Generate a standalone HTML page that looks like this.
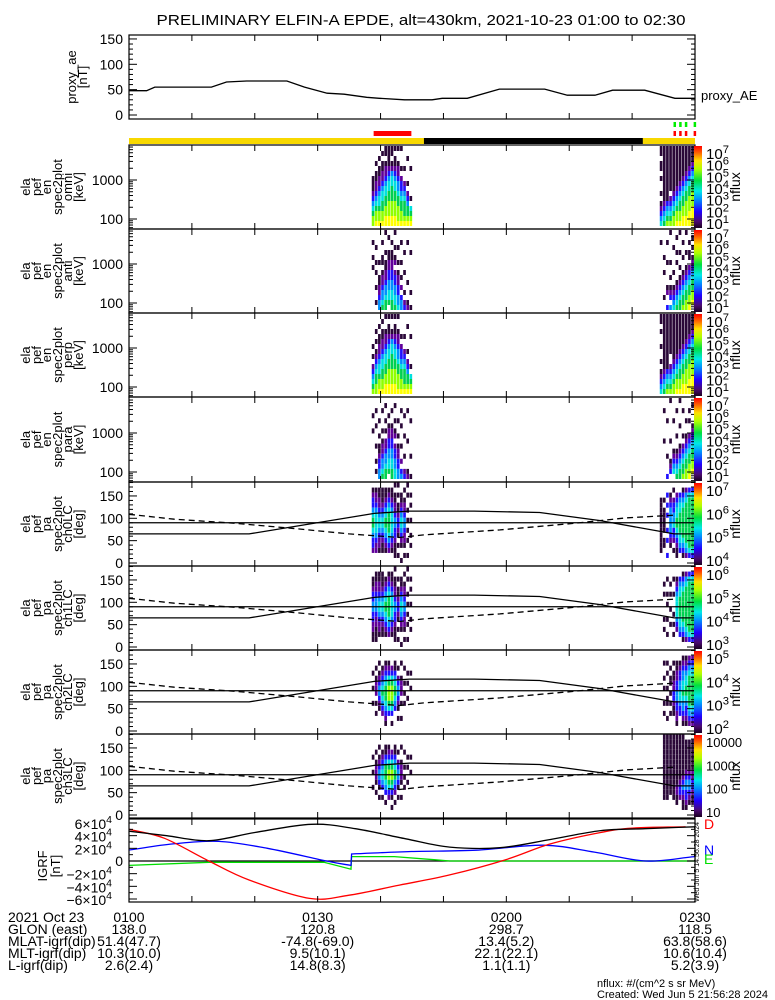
<!DOCTYPE html>
<html><head><meta charset="utf-8"><title>ELFIN-A EPDE</title>
<style>
html,body{margin:0;padding:0;background:#fff;}
svg{display:block;font-family:"Liberation Sans",sans-serif;}
</style></head>
<body>
<svg id="chart" xmlns="http://www.w3.org/2000/svg" width="775" height="1000" viewBox="0 0 775 1000">
<defs>
<linearGradient id="cbar" x1="0" y1="1" x2="0" y2="0">
<stop offset="0" stop-color="#1a0020"/>
<stop offset="0.08" stop-color="#4a0a70"/>
<stop offset="0.2" stop-color="#2000ff"/>
<stop offset="0.35" stop-color="#0090ff"/>
<stop offset="0.45" stop-color="#00e8e8"/>
<stop offset="0.58" stop-color="#00e040"/>
<stop offset="0.72" stop-color="#b0ff00"/>
<stop offset="0.82" stop-color="#ffe000"/>
<stop offset="0.92" stop-color="#ff6000"/>
<stop offset="1" stop-color="#ff0000"/>
</linearGradient>
</defs>
<text x="421" y="25" text-anchor="middle" font-size="15" textLength="529" lengthAdjust="spacingAndGlyphs">PRELIMINARY ELFIN-A EPDE, alt=430km, 2021-10-23 01:00 to 02:30</text>
</svg>
<script>
// ===== data =====
const aeTimes = [0,2.8,4.1,13.1,15.5,18.7,25.1,27.9,31.5,34.2,37.8,39.8,43.8,48.2,49.8,53.8,58.9,59.7,66.1,69.7,74.1,76.9,82.0,86.8,90];
const aeValues = [48,48,55,55,65,67,67,55,43,41,35,33,30,30,33,33,51,51,51,39,39,49,49,33,33];
const tickLabelsTime = ['0100','0130','0200','0230'];
const tickMinutes = [0,30,60,90];
const glonLabels = ['138.0','120.8','298.7','118.5'];
const mlatLabels = ['51.4(47.7)','-74.8(-69.0)','13.4(5.2)','63.8(58.6)'];
const mltLabels = ['10.3(10.0)','9.5(10.1)','22.1(22.1)','10.6(10.4)'];
const lLabels = ['2.6(2.4)','14.8(8.3)','1.1(1.1)','5.2(3.9)'];
// PA lines (minutes, degrees)
const paSolidT = [0,19.1,39,44.6,54.9,65.3,74.8,86.7,90];
const paSolidV = [65,65,111,116,116,113,95,65,65];
const paDashT = [0,7.2,16.7,27.1,35,43,47,59,71,79,86.7];
const paDashV = [109,98,89,76,65,57,63,74,89,101,107];
// IGRF components (minutes, nT)
const igrfBlackT = [0,6,12.7,20,29,36,44,51,59,67,75,82,90];
const igrfBlackV = [47000,40000,32000,45000,58000,51000,35000,22000,21000,34000,48000,51000,54000];
const igrfBlueT = [0,7,14.3,22,31.4,35.3,35.4,44.9,55.2,65.9,74,82.2,90];
const igrfBlueV = [17400,27000,31000,20000,0,-7000,11000,15000,17000,25000,14000,0,7000];
const igrfRedT = [0,5.6,12.7,19.1,28.7,35,43,51,59.9,67,75,80,88.5];
const igrfRedV = [50000,36000,0,-30000,-59000,-54000,-38000,-22000,2000,27000,45000,52000,54000];
const igrfGreenT = [0,12.7,31,35.3,35.4,42.2,48.5,51,90];
const igrfGreenV = [-7000,-2000,-2000,-13000,7000,7000,2000,0,0];
// spectrogram events: start minute, column width (min)
const ev1Start = 38.6, ev2Start = 84.4, colMin = 0.5;
const omniEv1 = ["......1112345677","...1.11223456778","..1.112234556778",".1.1122345566778","11.1223455667788","1111234556677788","11.1245566677788","1.11234556677788","1..1223445667778","1...1.2334566778","....1..234566678","..1....1.2346678","....1.....1.5678"];
const omniEv2 = ["11.11.1..1.12345","1111111111123456","1111111111134567","111111111.234567","1111111112345677","1111111123456778","1111111234566778","1111112345667788","1111123456677788","1111234566777888","1112345667778888","1112345667778888"];
const antiEv1 = ["..1..1.1........","...1..1.1..1..1.","......1..1122344","..1..11.12234456","1...1.1122344566",".1..11223344556.","..1.112233445566","1..1.12.23344556","...1..1.12233445","..1...1..1.2.344","....1...1...1.23","..1.......1...12","....1.......1..1"];
const antiEv2 = ["..1.............",".....1..1....1..","..1...1....12..3","1.....1..1.123.4","...1....1..12345",".1..1.1...123456","1...1..1.1234566","..1..1..12345667","1...1..123456677","..1.11.234566778",".1.1.1234566778.","..1.11234566778."];
const perpEv1 = ["......1.1.234567","...1.1.123456677","..1.112234556778",".1.1122345566778","1..1223455667788","1.11234556677788","1..1245566677788","1.11234556677788","1..1223445667778","....1.2334566778","....1..234566678","..1....1.2346678","....1.....1.5678"];
const perpEv2 = ["11.1..1..1.12345","1111111111123456","1111111111134567","11111111..234567","1111111112345677","1111111123456778","1111111234566778","1111112345667788","1111123456677788","1111234566777888","1112345667778888","1112345667778888"];
const paraEv1 = ["...1..1.........","..1..1...1..1.1.","....1..1.1123344","..1...1.12234456",".1..1.1.22344566","...1.1223344556.","..1..12233445566",".1..1.12.2334455","....1..1.1223344","..1..1...1..2.34","...1...1...1..23","..1.....1.....12","....1......1...1"];
const paraEv2 = ["................","..1.....1.......","....1......1...3","1.......1...123.","....1.....12345.","..1....1..123456","1....1...1234566","..1....1.2345667","....1..123456677","..1.1..234566778",".1...1234566778.","..1..1234566778."];
const pa0Ev1 = [".1233456654332..",".1223455554322..",".1122345543221..",".1112345543211..",".1123456654321..",".1234566665432..",".1123455554321..","1.1122344332111.","1.1.1123321.1.1.","..11234554321..1",".1.1223443221.1.","1.1..1.1.1.1..1.","..1.1..1..1.1..."];
const pa0Ev2 = ["...11111111111..","...1.11111.11...","..3.3.3..3.3..3.","..12344444321...",".1.233445332.1..","..2345566543211.","..345566665543..",".13456666665431.",".24566666666542.",".35666666666653.",".35666666666653.","..4566666666654."];
const pa1Ev1 = ["..1123344332211.",".11223444322111.",".1122345543221..",".1112345543211..","..123456654321..",".1234566665432..",".1123455554321..","1.1122344332111.","..1.1123321.1.1.","..11234554321..1",".1.1223443221.1.","1.1..1.1.1.1..1.","..1.1..1..1.1..."];
const pa1Ev2 = ["................","...1.1....1.1...","..1..1.1..1..1..","...1.1..1..1....","..1..1...1.1.1..","..12345555432...","..345566665543..",".13456666665431.",".24566666666542.",".35666666666653.",".35666666666653.","..4566666666654."];
const pa2Ev1 = ["....1..1..1.....","...1.1222.1.1...","..1.12344321....","...1234565432...","..1234566654321.","..12356777653...","...2356777653.1.","..1134566543....","...1.2344321.1..","..1..1222.1..1..","...1..1.1.1.....","....1.1..1......","....1..1........"];
const pa2Ev2 = ["................","..1..1.1..1.1...","..1.1..1.11..1..","...1.11.1.1.1...","..1.112233211...","..1122334433221.","..12334455433...",".12344556544321.",".12345566543321.",".23456666665432.",".23456666665432.","..3456666665432."];
const pa3Ev1 = ["....1..1..1.....","...1.12221.1....","..1.1234431.1...","...12345543.1...","..1134666543.1..","..12356776532...","...2356776531.1.","..1134566432.1..","...1.234431.1...","..1..12221..1...","...1..1.1.1.....","....1.1..1......","....1..1........"];
const pa3Ev2 = ["................","1111111111111...","1111111111111...","111111111111....","1111111111111...","11111111112211..","1111111112332...","111111112343211.",".11111123443321.",".1111112344321..",".1111112233211..","..11111122211..."];
const cbarExpSpec = [1,2,3,4,5,6,7];
const cbarExpPa = [[4,5,6,7],[3,4,5,6],[2,3,4,5],[1,2,3,4]];
const levelColors = ['none','#2a0838','#60009a','#2010ff','#0090ff','#00e0e0','#00d050','#90ff00','#ffff00','#ff8000','#ff0000'];

// ===== geometry =====
const svg = document.getElementById('chart');
const NS = 'http://www.w3.org/2000/svg';
const X0 = 129, X1 = 695;
function xT(m){ return X0 + (X1-X0)*m/90; }
function mk(tag, attrs, parent){
  const e = document.createElementNS(NS, tag);
  for (const k in attrs) e.setAttribute(k, attrs[k]);
  (parent||svg).appendChild(e);
  return e;
}
function txt(x,y,s,size,anchor,parent){
  const t = mk('text',{x:x,y:y,'font-size':size,'text-anchor':anchor||'start'},parent);
  t.textContent = s;
  return t;
}
function poly(ts, vs, yf, color, dash, g){
  const pts = ts.map((t,i)=> xT(t).toFixed(1)+','+yf(vs[i]).toFixed(1)).join(' ');
  const p = mk('polyline',{points:pts,fill:'none',stroke:color,'stroke-width':1.3},g);
  if (dash) p.setAttribute('stroke-dasharray', dash);
  return p;
}
function smooth(ts, vs, yf, color, g){
  const P = ts.map((t,i)=>[xT(t), yf(vs[i])]);
  let d = 'M'+P[0][0].toFixed(1)+','+P[0][1].toFixed(1);
  for (let i=0;i<P.length-1;i++){
    const p0=P[Math.max(0,i-1)], p1=P[i], p2=P[i+1], p3=P[Math.min(P.length-1,i+2)];
    if (Math.abs(p2[0]-p1[0])<1.5){ d+=' L'+p2[0].toFixed(1)+','+p2[1].toFixed(1); continue; }
    const c1=[p1[0]+(p2[0]-p0[0])/6, p1[1]+(p2[1]-p0[1])/6];
    const c2=[p2[0]-(p3[0]-p1[0])/6, p2[1]-(p3[1]-p1[1])/6];
    if (Math.abs(p1[0]-p0[0])<1.5){ c1[0]=p1[0]+(p2[0]-p1[0])/3; c1[1]=p1[1]+(p2[1]-p1[1])/3; }
    if (Math.abs(p3[0]-p2[0])<1.5){ c2[0]=p2[0]-(p2[0]-p1[0])/3; c2[1]=p2[1]-(p2[1]-p1[1])/3; }
    d+=' C'+c1[0].toFixed(1)+','+c1[1].toFixed(1)+' '+c2[0].toFixed(1)+','+c2[1].toFixed(1)+' '+p2[0].toFixed(1)+','+p2[1].toFixed(1);
  }
  return mk('path',{d:d,fill:'none',stroke:color,'stroke-width':1.3},g);
}
function frame(top, bot, g){
  mk('rect',{x:X0,y:top,width:X1-X0,height:bot-top,fill:'none',stroke:'#000','stroke-width':1.2},g);
  for (let m=0;m<=90;m+=10){
    const x = xT(m);
    mk('line',{x1:x,y1:bot,x2:x,y2:bot-6,stroke:'#000'},g);
    mk('line',{x1:x,y1:top,x2:x,y2:top+6,stroke:'#000'},g);
  }
}
function yTicks(yvals, g, minor){
  yvals.forEach(y=>{
    mk('line',{x1:X0,y1:y,x2:X0+(minor?4:8),y2:y,stroke:'#000'},g);
    mk('line',{x1:X1,y1:y,x2:X1-(minor?4:8),y2:y,stroke:'#000'},g);
  });
}
function ylab(lines, cy, xs, g){
  lines.forEach((s,i)=>{
    const t = txt(xs[i], cy, s, 13, 'middle', g);
    t.setAttribute('transform','rotate(-90,'+xs[i]+','+cy+')');
  });
}
function sup(x,y,base,exp,size,anchor,g){
  const t = mk('text',{x:x,y:y,'font-size':size,'text-anchor':anchor||'start'},g);
  const a = mk('tspan',{},t); a.textContent = base;
  const b = mk('tspan',{dy:-6,'font-size':size*0.75},t); b.textContent = exp;
  return t;
}
function cbar(top, bot, exps, g, plain){
  mk('rect',{x:694,y:top+1,width:8,height:bot-top-2,fill:'url(#cbar)'},g);
  const n = exps.length;
  exps.forEach((e,i)=>{
    const y = bot - 6 - (bot-top-14)*i/(n-1);
    if (plain) txt(706, y+5, String(Math.pow(10,e)), 13, 'start', g);
    else sup(706, y+6, '10', String(e), 15, 'start', g);
  });
  const cy=(top+bot)/2;
  const t = txt(740, cy, 'nflux', 14, 'middle', g);
  t.setAttribute('transform','rotate(-90,740,'+cy+')');
}
function heat(matrix, start, rowsTopBot, top, bot, g){
  const nb = matrix[0].length;
  const h = (bot-top)/nb;
  matrix.forEach((col,ci)=>{
    const x = xT(start + ci*colMin);
    const w = xT(start+(ci+1)*colMin) - x;
    for (let r=0;r<nb;r++){
      const c = col[r];
      if (c==='.') continue;
      const lv = parseInt(c,10);
      const cell = mk('rect',{x:x.toFixed(2),y:(top+r*h).toFixed(2),width:(w*0.85).toFixed(2),height:h.toFixed(2),fill:levelColors[lv]},g);
      
      
    }
  });
}

// ===== proxy AE panel =====
const gAE = mk('g',{});


const aeTop=35, aeBot=119;
const yAE = v => 115 - v*0.507;
poly(aeTimes, aeValues, yAE, '#000', null, gAE);
frame(aeTop, aeBot, gAE);
[0,50,100,150].forEach(v=>{ txt(123, yAE(v)+5, String(v), 14, 'end', gAE); });
yTicks([0,50,100,150].map(yAE), gAE, false);
const aeMin=[]; for(let v=10;v<=150;v+=10){ if(v%50) aeMin.push(yAE(v)); } yTicks(aeMin, gAE, true);
ylab(['proxy_ae','[nT]'], 77, [76,87], gAE);
txt(701, 100, 'proxy_AE', 13, 'start', gAE);

// ===== status bars =====
const gBar = mk('g',{});


mk('rect',{x:X0,y:138,width:X1-X0,height:6,fill:'#f8d800'},gBar);
mk('rect',{x:xT(46.9),y:138,width:xT(81.7)-xT(46.9),height:6,fill:'#000'},gBar);
mk('rect',{x:xT(38.9),y:131,width:xT(44.9)-xT(38.9),height:5,fill:'#ff0000'},gBar);
[86.9,87.8,88.7,90.1].forEach(m=>{
  mk('rect',{x:xT(m)-2,y:122,width:2.5,height:5,fill:'#00ee00'},gBar);
  mk('rect',{x:xT(m)-2,y:131,width:2.5,height:5,fill:'#ff0000'},gBar);
});

// ===== energy spectrogram panels =====
const specPanels = [
  {top:145,bot:229,name:'omni',m1:omniEv1,m2:omniEv2},
  {top:229,bot:313,name:'anti',m1:antiEv1,m2:antiEv2},
  {top:313,bot:397,name:'perp',m1:perpEv1,m2:perpEv2},
  {top:397,bot:482,name:'para',m1:paraEv1,m2:paraEv2}
];
specPanels.forEach(p=>{
  const g = mk('g',{});
  
  
  const yE = e => (p.bot-10) - 39*Math.log10(e/100);
  heat(p.m1, ev1Start, true, p.top+1, p.bot-3, g);
  heat(p.m2, ev2Start, true, p.top+1, p.bot-3, g);
  frame(p.top, p.bot, g);
  txt(123, yE(1000)+5, '1000', 14, 'end', g);
  txt(123, yE(100)+5, '100', 14, 'end', g);
  yTicks([yE(100),yE(1000)], g, false);
  const mins=[];
  [60,70,80,90,200,300,400,500,600,700,800,900,2000,3000,4000,5000,6000,7000].forEach(e=>{ const y=yE(e); if(y>p.top && y<p.bot) mins.push(y); });
  yTicks(mins, g, true);
  ylab(['ela','pef','en','spec2plot',p.name,'[keV]'], (p.top+p.bot)/2, [30,41,51,62,72,83], g);
  cbar(p.top, p.bot, cbarExpSpec, g, false);
});

// ===== pitch-angle panels =====
const paPanels = [
  {top:482,bot:566,name:'ch0LC',m1:pa0Ev1,m2:pa0Ev2,exps:cbarExpPa[0],plain:false},
  {top:566,bot:650,name:'ch1LC',m1:pa1Ev1,m2:pa1Ev2,exps:cbarExpPa[1],plain:false},
  {top:650,bot:734,name:'ch2LC',m1:pa2Ev1,m2:pa2Ev2,exps:cbarExpPa[2],plain:false},
  {top:734,bot:818,name:'ch3LC',m1:pa3Ev1,m2:pa3Ev2,exps:cbarExpPa[3],plain:true}
];
paPanels.forEach(p=>{
  const g = mk('g',{});
  
  
  const yP = d => (p.bot-3) - d*0.447;
  heat(p.m1, ev1Start, true, yP(180), yP(0), g);
  heat(p.m2, ev2Start, true, yP(180), yP(0), g);
  mk('line',{x1:X0,y1:yP(90),x2:X1,y2:yP(90),stroke:'#000','stroke-width':1.3},g);
  poly(paSolidT, paSolidV, yP, '#000', null, g);
  poly(paDashT, paDashV, yP, '#000', '6,4', g);
  frame(p.top, p.bot, g);
  [0,50,100,150].forEach(v=>{ txt(123, yP(v)+5, String(v), 14, 'end', g); });
  yTicks([0,50,100,150].map(yP), g, false);
  const mins=[]; for(let v=10;v<=180;v+=10){ if(v%50) mins.push(yP(v)); } yTicks(mins, g, true);
  ylab(['ela','pef','pa','spec2plot',p.name,'[deg]'], (p.top+p.bot)/2, [30,41,51,62,72,83], g);
  cbar(p.top, p.bot, p.exps, g, p.plain);
});

// ===== IGRF panel =====
const gI = mk('g',{});


const iTop=819, iBot=902;
const yI = v => 861 - v*38/60000;
mk('line',{x1:X0,y1:yI(0),x2:X1,y2:yI(0),stroke:'#000','stroke-width':1.3},gI);
poly(igrfGreenT, igrfGreenV, yI, '#00dd00', null, gI);
smooth(igrfBlueT, igrfBlueV, yI, '#0000ff', gI);
smooth(igrfRedT, igrfRedV, yI, '#ff0000', gI);
smooth(igrfBlackT, igrfBlackV, yI, '#000', gI);
frame(iTop, iBot, gI);
[-60000,-40000,-20000,0,20000,40000,60000].forEach(v=>{
  const y=yI(v);
  if (v===0) txt(123, y+5, '0', 14, 'end', gI);
  else sup(112, y+6, (v<0?'\u2212':'')+String(Math.abs(v)/10000)+'\u00d710', '4', 14, 'end', gI);
});
yTicks([-60000,-40000,-20000,0,20000,40000,60000].map(yI), gI, false);
const imins=[]; for(let v=-50000;v<=50000;v+=10000){ if((v/10000)%2) imins.push(yI(v)); } yTicks(imins, gI, true);
ylab(['IGRF','[nT]'], 866, [47,60], gI);
txt(704, 829, 'D', 14, 'start', gI).setAttribute('fill','#ff0000');
txt(704, 855, 'N', 14, 'start', gI).setAttribute('fill','#0000ff');
txt(704, 864, 'E', 14, 'start', gI).setAttribute('fill','#00dd00');
const stamp = txt(699, 862, 'Wed Jun  5 14:56:28 2024', 7, 'middle', gI);
stamp.setAttribute('transform','rotate(-90,699,862)');

// ===== footer labels =====
const gF = mk('g',{});


const rowNames = ['2021 Oct 23','GLON (east)','MLAT-igrf(dip)','MLT-igrf(dip)','L-igrf(dip)'];
const rowY = [922,934,946,958,970];
rowNames.forEach((s,i)=> txt(8, rowY[i], s, 14, 'start', gF));
const rows = [tickLabelsTime, glonLabels, mlatLabels, mltLabels, lLabels];
rows.forEach((arr,ri)=> arr.forEach((s,i)=> txt(xT(tickMinutes[i]), rowY[ri], s, 14, 'middle', gF)));
txt(597, 987, 'nflux: #/(cm^2 s sr MeV)', 11, 'start', gF);
txt(597, 998, 'Created: Wed Jun  5 21:56:28 2024', 11, 'start', gF);
</script>
</body></html>
